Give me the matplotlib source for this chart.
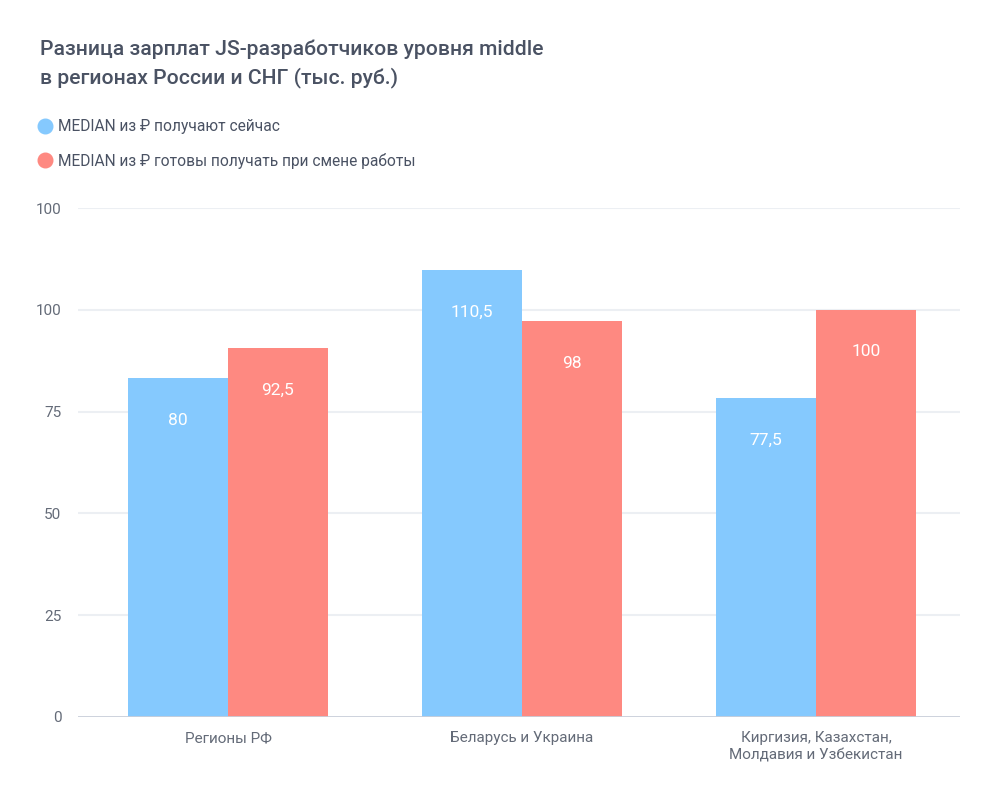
import matplotlib.pyplot as plt
import numpy as np
from matplotlib.lines import Line2D

plt.rcParams['font.family'] = ['Roboto', 'DejaVu Sans']

# данные
regions = ["Регионы РФ", "Беларусь и Украина", "Киргизия, Казахстан,\nМолдавия и Узбекистан"]
now_heights = [83.2, 109.8, 78.3]
wish_heights = [90.6, 97.2, 100.0]
now_labels = ["80", "110,5", "77,5"]
wish_labels = ["92,5", "98", "100"]
y_ticks = [0, 25, 50, 75, 100, 125]
y_tick_labels = ["0", "25", "50", "75", "100", "100"]

blue = "#85c9fe"
red = "#fe8981"
text_col = "#4a5263"
tick_col = "#646b78"

fig = plt.figure(figsize=(10, 7.94), dpi=100)
ax = fig.add_axes([0.078, 1 - 717 / 794, 0.882, (717 - 208) / 794])

x = np.arange(len(regions))
w = 0.34
b1 = ax.bar(x - w / 2, now_heights, w, color=blue, zorder=2)
b2 = ax.bar(x + w / 2, wish_heights, w, color=red, zorder=2)

for bars, labels in [(b1, now_labels), (b2, wish_labels)]:
    for bar, lab in zip(bars, labels):
        ax.text(bar.get_x() + bar.get_width() / 2, bar.get_height() - 10.3, lab,
                ha="center", va="center", color="white", fontsize=12.5, zorder=3)

ax.set_xlim(-0.51, 2.49)
ax.set_ylim(0, 125)
ax.set_yticks(y_ticks)
ax.set_yticklabels(y_tick_labels)
ax.set_xticks(x)
ax.set_xticklabels(regions, linespacing=1.35)
for y in y_ticks[1:]:
    ax.axhline(y, color="#eceff3", lw=1.5, zorder=1)
ax.axhline(0, color="#c9ced9", lw=2, zorder=3)

for s in ax.spines.values():
    s.set_visible(False)
ax.tick_params(axis="both", length=0, colors=tick_col, labelsize=11)
ax.tick_params(axis="y", pad=12)
ax.tick_params(axis="x", pad=10)

fig.text(0.04, 0.95, "Разница зарплат JS-разработчиков уровня middle\nв регионах России и СНГ (тыс. руб.)",
         ha="left", va="top", fontsize=15.2, fontweight="medium", color=text_col, linespacing=1.5)

handles = [Line2D([], [], marker="o", ls="", ms=10.5, color=blue),
           Line2D([], [], marker="o", ls="", ms=10.5, color=red)]
fig.legend(handles, ["MEDIAN из ₽ получают сейчас", "MEDIAN из ₽ готовы получать при смене работы"],
           loc="upper left", bbox_to_anchor=(0.037, 0.85), frameon=False,
           fontsize=11.2, labelcolor=text_col, handletextpad=0.35, labelspacing=1.2,
           handlelength=1.0, borderpad=0, borderaxespad=0)

plt.savefig("out.png", dpi=100, facecolor="white")
